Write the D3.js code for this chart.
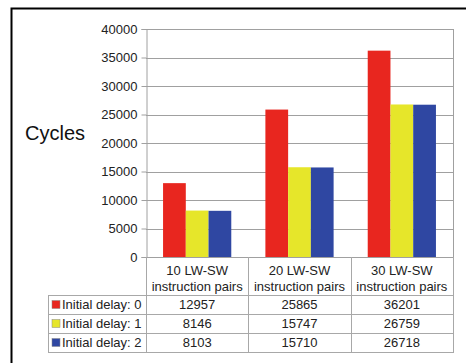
<!DOCTYPE html>
<html>
<head>
<meta charset="utf-8">
<script src="https://cdn.jsdelivr.net/npm/d3@7"></script>
<style>
  html, body { margin: 0; padding: 0; background: #fff; }
  svg { display: block; font-family: "Liberation Sans", Arial, sans-serif; }
</style>
</head>
<body>
<svg id="chart" width="466" height="363"></svg>
<script>
// Cycle counts per test size and initial delay
const categories = ["10 LW-SW|instruction pairs", "20 LW-SW|instruction pairs", "30 LW-SW|instruction pairs"];
const seriesNames = ["Initial delay: 0", "Initial delay: 1", "Initial delay: 2"];
const delay0 = [12957, 25865, 36201];
const delay1 = [8146, 15747, 26759];
const delay2 = [8103, 15710, 26718];
const yTicks = [0, 5000, 10000, 15000, 20000, 25000, 30000, 35000, 40000];
const colors = ["#e8261f", "#e6e62a", "#2f47a2"];

const series = [delay0, delay1, delay2];

(function draw() {
  const svg = d3.select("#chart");
  const plotLeft = 146, plotRight = 453, plotTop = 29, plotBottom = 257;
  const gridColor = "#a0a0a0";
  const tableColor = "#a8a8a8";
  const fs = 13;

  // frame around the whole figure
  svg.append("rect")
    .attr("x", 11.5).attr("y", 8.5)
    .attr("width", 470).attr("height", 370)
    .attr("fill", "none").attr("stroke", "#000").attr("stroke-width", 2);

  const x = d3.scaleBand().domain(categories).range([plotLeft, plotRight]).padding(0);
  const y = d3.scaleLinear().domain([0, 40000]).range([plotBottom, plotTop]);
  const inner = d3.scaleBand().domain(d3.range(series.length))
    .range([x.bandwidth() / 6, x.bandwidth() * 5 / 6]).padding(0);

  // horizontal gridlines
  svg.append("g").selectAll("line").data(yTicks).join("line")
    .attr("x1", plotLeft).attr("x2", plotRight)
    .attr("y1", d => Math.round(y(d)) + 0.5).attr("y2", d => Math.round(y(d)) + 0.5)
    .attr("stroke", gridColor).attr("stroke-width", 1);

  // plot border on the right
  svg.append("line")
    .attr("x1", plotRight + 0.5).attr("x2", plotRight + 0.5)
    .attr("y1", plotTop).attr("y2", plotBottom)
    .attr("stroke", gridColor);

  // y axis
  const yAxis = d3.axisLeft(y).tickValues(yTicks).tickSize(5).tickPadding(4).tickFormat(d3.format("d"));
  const ya = svg.append("g").attr("transform", `translate(${plotLeft + 0.5},0)`).call(yAxis);
  ya.select(".domain").attr("stroke", gridColor);
  ya.selectAll(".tick line").attr("stroke", gridColor);
  ya.selectAll(".tick text").attr("font-size", fs).attr("fill", "#222")
    .attr("font-family", "Liberation Sans, Arial, sans-serif");

  // bars
  const groups = svg.append("g").selectAll("g").data(categories).join("g")
    .attr("transform", d => `translate(${x(d)},0)`);
  groups.selectAll("rect").data((d, i) => series.map((s, k) => ({ k, v: s[i] }))).join("rect")
    .attr("x", d => inner(d.k))
    .attr("width", inner.bandwidth())
    .attr("y", d => y(d.v))
    .attr("height", d => y(0) - y(d.v))
    .attr("fill", d => colors[d.k]);

  // y title
  svg.append("text").attr("x", 25).attr("y", 140)
    .attr("font-size", 20).attr("fill", "#111").text("Cycles");

  // data table under the axis
  const headerBottom = 295, rowH = 19, tableLeft = 48;
  const t = svg.append("g").attr("stroke", tableColor).attr("stroke-width", 1);
  const cols = categories.map(c => x(c)).concat([plotRight]);
  cols.forEach(cx => {
    t.append("line").attr("x1", Math.round(cx) + 0.5).attr("x2", Math.round(cx) + 0.5)
      .attr("y1", plotBottom).attr("y2", headerBottom + rowH * 3);
  });
  t.append("line").attr("x1", tableLeft + 0.5).attr("x2", tableLeft + 0.5)
    .attr("y1", headerBottom).attr("y2", headerBottom + rowH * 3);
  d3.range(4).forEach(r => {
    const yy = headerBottom + rowH * r + 0.5;
    t.append("line").attr("x1", tableLeft).attr("x2", plotRight + 1)
      .attr("y1", yy).attr("y2", yy);
  });

  // category headers
  categories.forEach(c => {
    const cx = x(c) + x.bandwidth() / 2;
    c.split("|").forEach((ln, j) => {
      svg.append("text").attr("x", cx).attr("y", 275 + j * 16)
        .attr("text-anchor", "middle").attr("font-size", fs).attr("fill", "#222")
        .text(ln);
    });
  });

  // rows: legend key + values
  series.forEach((s, k) => {
    const rowTop = headerBottom + rowH * k;
    svg.append("rect").attr("x", 52).attr("y", rowTop + 5.5)
      .attr("width", 8).attr("height", 8)
      .attr("fill", colors[k]).attr("stroke", "#888").attr("stroke-width", 0.5);
    svg.append("text").attr("x", 62).attr("y", rowTop + 14)
      .attr("font-size", fs).attr("fill", "#222").text(seriesNames[k]);
    s.forEach((v, i) => {
      svg.append("text").attr("x", x(categories[i]) + x.bandwidth() / 2).attr("y", rowTop + 14)
        .attr("text-anchor", "middle").attr("font-size", fs).attr("fill", "#222").text(v);
    });
  });
})();
</script>
</body>
</html>
